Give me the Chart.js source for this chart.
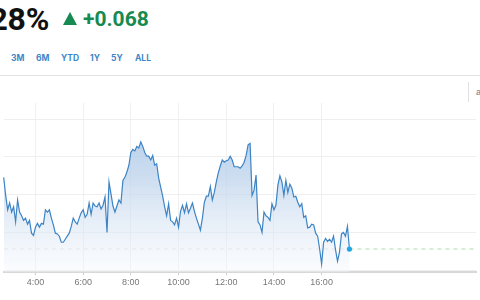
<!DOCTYPE html>
<html>
<head>
<meta charset="utf-8">
<script src="https://cdn.jsdelivr.net/npm/chart.js@4/dist/chart.umd.min.js"></script>
<style>
  html, body { margin: 0; padding: 0; background: #fff; width: 480px; height: 300px; overflow: hidden; }
  #wrap { position: relative; width: 480px; height: 300px; font-family: "Liberation Sans", Arial, sans-serif; }
  #price { position: absolute; right: 431px; top: 0px; font-family: Roboto, sans-serif; font-weight: 700; font-size: 32px; color: #111; white-space: nowrap; letter-spacing: -0.3px; }
  #tri { position: absolute; left: 63px; top: 12px; width: 0; height: 0; border-left: 7px solid transparent; border-right: 7px solid transparent; border-bottom: 13px solid #168a50; }
  #change { position: absolute; left: 83px; top: 7px; font-family: Roboto, sans-serif; font-weight: 700; font-size: 21px; color: #168a50; white-space: nowrap; }
  #ranges { position: absolute; left: 0; top: 53px; height: 14px; font-family: Inter, sans-serif; font-weight: 700; font-size: 8.5px; color: #3f86c6; }
  #ranges span { position: absolute; top: 0; white-space: nowrap; }
  #sep { position: absolute; left: 0; top: 75px; width: 480px; height: 1px; background: #e3e3e3; }
  #vsep { position: absolute; left: 468px; top: 82px; width: 1px; height: 20px; background: #e0e0e0; }
  #cut { position: absolute; left: 476px; top: 87px; font-size: 9px; color: #777; }
  #chartBox { position: absolute; left: 0; top: 90px; width: 480px; height: 210px; }
</style>
</head>
<body>
<div id="wrap">
  <div id="price"></div>
  <div id="tri"></div>
  <div id="change"></div>
  <div id="ranges"></div>
  <div id="sep"></div>
  <div id="vsep"></div>
  <div id="cut">a</div>
  <div id="chartBox"><canvas id="c" width="480" height="210"></canvas></div>
</div>
<script>
// ---- data ----
const headlineValue = "4.228%";
const headlineChange = "+0.068";
const rangeLabels = ["3M", "6M", "YTD", "1Y", "5Y", "ALL"];
const rangeLeft = [11, 36, 61, 90, 111, 135];

const startHour = 2 + 40 / 60;      // first visible sample (02:40)
const stepMinutes = 5;               // sampling interval
const yieldValues = [
  4.323, 4.299, 4.280, 4.289, 4.277, 4.284, 4.264, 4.293, 4.277, 4.272,
  4.266, 4.269, 4.261, 4.266, 4.249, 4.246, 4.257, 4.262, 4.257, 4.262,
  4.261, 4.280, 4.277, 4.280, 4.269, 4.260, 4.249, 4.248, 4.245, 4.237,
  4.237, 4.241, 4.245, 4.249, 4.258, 4.269, 4.264, 4.261, 4.269, 4.276,
  4.280, 4.270, 4.274, 4.289, 4.274, 4.289, 4.285, 4.284, 4.289, 4.281,
  4.286, 4.297, 4.250, 4.317, 4.301, 4.285, 4.277, 4.285, 4.293, 4.289,
  4.319, 4.323, 4.330, 4.339, 4.356, 4.360, 4.358, 4.364, 4.362, 4.370,
  4.364, 4.356, 4.351, 4.351, 4.346, 4.352, 4.339, 4.341, 4.322, 4.310,
  4.298, 4.284, 4.272, 4.288, 4.266, 4.264, 4.260, 4.269, 4.257, 4.278,
  4.286, 4.276, 4.288, 4.276, 4.282, 4.289, 4.278, 4.269, 4.261, 4.253,
  4.269, 4.290, 4.298, 4.298, 4.311, 4.293, 4.303, 4.317, 4.329, 4.338,
  4.346, 4.343, 4.345, 4.346, 4.351, 4.346, 4.337, 4.337, 4.337, 4.335,
  4.338, 4.343, 4.352, 4.366, 4.368, 4.299, 4.306, 4.326, 4.264, 4.260,
  4.250, 4.277, 4.272, 4.270, 4.266, 4.288, 4.280, 4.286, 4.313, 4.325,
  4.317, 4.299, 4.319, 4.303, 4.314, 4.309, 4.297, 4.298, 4.290, 4.284,
  4.288, 4.270, 4.272, 4.256, 4.257, 4.261, 4.260, 4.249, 4.245, 4.228,
  4.208, 4.237, 4.242, 4.238, 4.241, 4.237, 4.245, 4.227, 4.212, 4.224,
  4.248, 4.250, 4.245, 4.258, 4.228
];
const referenceLevel = 4.228;
const xTickHours = [4, 6, 8, 10, 12, 14, 16];
const yGridValues = [4.20, 4.25, 4.30, 4.35, 4.40];
const xMin = 2.68, xMax = 22.474;
const yMin = 4.1973, yMax = 4.4215;

// ---- header ----
document.getElementById('price').textContent = headlineValue;
document.getElementById('change').textContent = headlineChange;
const rg = document.getElementById('ranges');
rangeLabels.forEach((t, i) => {
  const s = document.createElement('span');
  s.textContent = t; s.style.left = rangeLeft[i] + 'px';
  rg.appendChild(s);
});

// ---- chart ----
const pts = yieldValues.map((v, i) => ({ x: startHour + i * stepMinutes / 60, y: v }));
const lastPt = pts[pts.length - 1];
const lastIdx = pts.length - 1;

new Chart(document.getElementById('c'), {
  type: 'line',
  data: {
    datasets: [
      {
        data: pts,
        borderColor: '#3c84c5',
        borderWidth: 1.2,
        tension: 0,
        fill: 'start',
        backgroundColor: (ctx) => {
          const ca = ctx.chart.chartArea;
          if (!ca) return 'rgba(180,205,232,0.6)';
          const g = ctx.chart.ctx.createLinearGradient(0, ca.top, 0, ca.bottom);
          g.addColorStop(0, 'rgba(150,186,226,0.85)');
          g.addColorStop(0.45, 'rgba(185,208,234,0.7)');
          g.addColorStop(1, 'rgba(244,247,252,0.4)');
          return g;
        },
        pointRadius: (ctx) => ctx.dataIndex === lastIdx ? 2.6 : 0,
        pointBackgroundColor: '#1ea5e6',
        pointBorderWidth: 0,
        clip: false,
        order: 1
      },
      {
        data: [{ x: xMin, y: referenceLevel }, { x: lastPt.x, y: referenceLevel }],
        borderColor: '#e2e2e2',
        borderWidth: 1,
        borderDash: [4, 4],
        pointRadius: 0,
        fill: false,
        order: 2
      },
      {
        data: [{ x: lastPt.x, y: referenceLevel }, { x: xMax, y: referenceLevel }],
        borderColor: '#a9dba3',
        borderWidth: 1,
        borderDash: [4, 4],
        pointRadius: 0,
        fill: false,
        order: 2
      }
    ]
  },
  options: {
    responsive: false,
    animation: false,
    layout: { padding: { top: 13, bottom: 10, left: 0, right: 0 } },
    plugins: { legend: { display: false }, tooltip: { enabled: false } },
    scales: {
      x: {
        type: 'linear',
        min: xMin, max: xMax,
        afterBuildTicks: (ax) => { ax.ticks = xTickHours.map(v => ({ value: v })); },
        ticks: {
          callback: (v) => v + ':00',
          color: '#777',
          font: { family: '"Liberation Sans", Arial, sans-serif', size: 9 },
          padding: 2,
          maxRotation: 0,
          autoSkip: false
        },
        grid: { color: '#f0f0f0', tickColor: '#cfcfcf', tickLength: 3, lineWidth: 1 },
        border: { display: true, color: '#d8d8d8', width: 2 }
      },
      y: {
        min: yMin, max: yMax,
        afterBuildTicks: (ax) => { ax.ticks = yGridValues.map(v => ({ value: v })); },
        ticks: { display: false },
        grid: { color: '#efefef', drawTicks: false },
        border: { display: false }
      }
    }
  }
});
</script>
</body>
</html>
